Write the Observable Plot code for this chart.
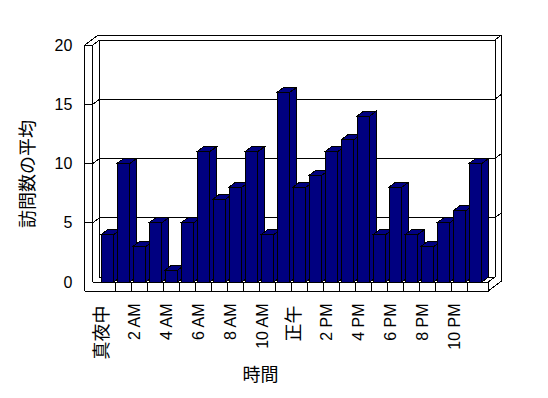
<!DOCTYPE html>
<html><head><meta charset="utf-8">
<script src="https://cdn.jsdelivr.net/npm/d3@7"></script>
<script src="https://cdn.jsdelivr.net/npm/@observablehq/plot@0.6"></script>
<style>body{margin:0;background:#fff}</style>
</head><body><div id="chart"></div>
<script>
// ---- data ----
const hours = d3.range(24);
const values = [4,10,3,5,1,5,11,7,8,11,4,16,8,9,11,12,14,4,8,4,3,5,6,10];
const latinTicks = [2,4,6,8,10,14,16,18,20,22];
const latinLabels = ["2 AM","4 AM","6 AM","8 AM","10 AM","2 PM","4 PM","6 PM","8 PM","10 PM"];
const cjkTicks = [0,12];
const cjkLabels = ["真夜中","正午"];
const yTicks = [0,5,10,15,20];
const gridValues = [5,10,15];
const yTitle = "訪問数の平均";
const xTitle = "時間";

const data = hours.map((h,i)=>({hour:h, value:values[i]}));
const latinMap = new Map(latinTicks.map((t,i)=>[t,latinLabels[i]]));
const cjkMap = new Map(cjkTicks.map((t,i)=>[t,cjkLabels[i]]));

// ---- 3D geometry (pixels) ----
const DX = 6.7, DY = 5;   // floor / bar depth
const WX = 6.6, WY = 5;   // back wall thickness
const WALL = 8;           // left wall thickness
const FLOOR = 9;          // floor thickness
const INSET_L = 2, INSET_R = 1.2;
const NAVY = "#000080";

function frame(index, scales, values, dim) {
  const {x, y} = scales;
  const x0 = dim.marginLeft, x1 = dim.width - dim.marginRight;
  const y0 = y(0), yT = y(20), lw = x0 - WALL;
  let p = "";
  p += `M${lw},${yT}V${y0+FLOOR}M${x0},${yT}V${y0}M${lw},${yT}H${x0}`;
  p += `M${lw},${yT}L${lw+DX+WX},${yT-DY-WY}M${x0},${yT}L${x0+DX},${yT-DY}`;
  p += `M${x0+DX},${yT-DY}H${x1+DX}V${y0-DY}M${x0+DX},${yT-DY}V${y0-DY}H${x1+DX}`;
  p += `M${lw+DX+WX},${yT-DY-WY}H${x1+DX+WX}V${y0+FLOOR-DY-WY}M${x1+DX},${yT-DY}L${x1+DX+WX},${yT-DY-WY}`;
  p += `M${x0},${y0}H${x1}V${y0+FLOOR}H${lw}M${x1},${y0}L${x1+DX},${y0-DY}M${x1},${y0+FLOOR}L${x1+DX+WX},${y0+FLOOR-DY-WY}`;
  for (const h of hours.slice(1)) p += `M${x(h)},${y0}V${y0+FLOOR}`;
  for (const v of gridValues) {
    const yy = y(v);
    p += `M${lw},${yy}H${x0}L${x0+DX},${yy-DY}H${x1+DX}L${x1+DX+WX},${yy-DY-WY}`;
  }
  const g = d3.create("svg:g");
  g.append("path").attr("d", p).attr("fill","none").attr("stroke","black").attr("stroke-width",1);
  return g.node();
}

function barDepth(index, scales) {
  const {x, y} = scales;
  const bw = x(1) - x(0);
  const g = d3.create("svg:g").attr("fill", NAVY).attr("stroke","black");
  for (const d of data) {
    const xl = x(d.hour) + INSET_L, xr = x(d.hour) + bw - INSET_R;
    const yt = y(d.value), yb = y(0);
    g.append("path").attr("d", `M${xr},${yt}L${xr+DX},${yt-DY}L${xr+DX},${yb-DY}L${xr},${yb}Z`);
    g.append("path").attr("d", `M${xl},${yt}L${xl+DX},${yt-DY}L${xr+DX},${yt-DY}L${xr},${yt}Z`);
  }
  return g.node();
}

const chart = Plot.plot({
  width: 548, height: 398,
  marginLeft: 92.8, marginRight: 59.7, marginTop: 45, marginBottom: 116,
  style: {fontFamily: "'Liberation Sans', 'Noto Sans CJK JP', sans-serif", background: "white", shapeRendering: "crispEdges"},
  x: {type: "band", domain: hours, padding: 0},
  y: {domain: [0, 20]},
  marks: [
    frame,
    barDepth,
    Plot.barY(data, {x: "hour", y: "value", fill: NAVY, stroke: "black", insetLeft: INSET_L, insetRight: INSET_R}),
    Plot.axisY({ticks: yTicks, tickSize: 0, tickPadding: 21, fontSize: 16, label: null, fill: "black"}),
    Plot.axisX({ticks: latinTicks, tickFormat: d => latinMap.get(d), tickRotate: -90, tickSize: 0, tickPadding: 21, dx: -5, fontSize: 16, label: null, fill: "black"}),
    Plot.axisX({ticks: cjkTicks, tickFormat: d => cjkMap.get(d), tickRotate: -90, tickSize: 0, tickPadding: 23, dx: -5, fontSize: 18, label: null, fill: "black"}),
    Plot.text([yTitle], {text: d => d, frameAnchor: "left", textAnchor: "middle", lineAnchor: "middle", rotate: -90, dx: -64.8, dy: 10, fontSize: 18, fill: "black"}),
    Plot.text([xTitle], {text: d => d, frameAnchor: "bottom", textAnchor: "middle", lineAnchor: "middle", dx: -30.5, dy: 93, fontSize: 18, fill: "black"})
  ]
});
document.getElementById("chart").append(chart);
</script>
</body></html>
